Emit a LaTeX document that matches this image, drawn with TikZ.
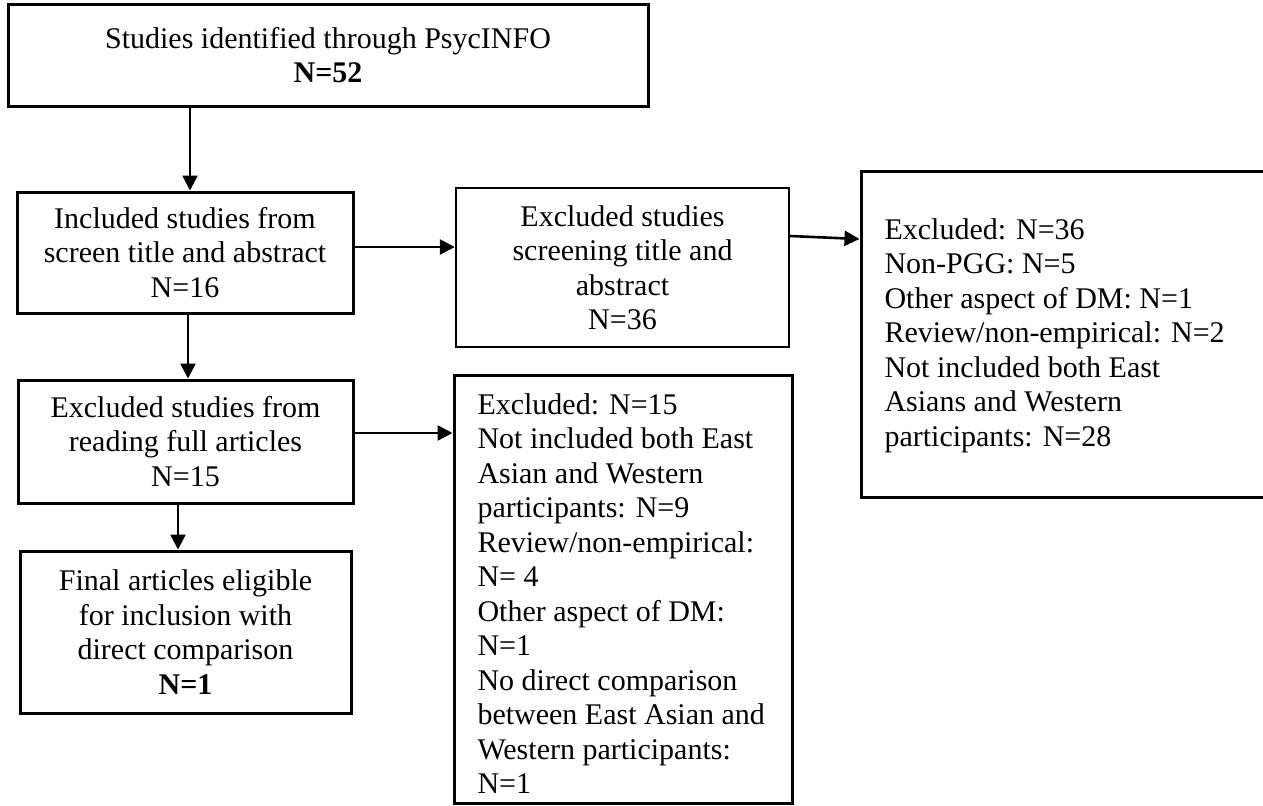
\documentclass[tikz,border=0pt]{standalone}
\usepackage{fontspec}
\setmainfont{Liberation Serif}
\usetikzlibrary{arrows.meta}
\begin{document}
\begin{tikzpicture}[x=0.5pt,y=-0.5pt,
  box/.style={draw=black,line width=1.5pt,rectangle,inner sep=0pt,
    font=\fontsize{15pt}{17.25pt}\selectfont,align=center},
  arr/.style={line width=1.3pt,-{Triangle[length=7.5pt,width=7.5pt]}}]
\useasboundingbox (0,0) rectangle (1263,805);

% boxes of the flow
\node[box,minimum width=320pt,minimum height=51pt] (A) at (328,55)
  {Studies identified through PsycINFO\\\textbf{N=52}};
\node[box,minimum width=168pt,minimum height=60.5pt] (B) at (185,252.5)
  {Included studies from\\screen title and abstract\\N=16};
\node[box,line width=1.2pt,minimum width=166.5pt,minimum height=79.5pt] (C) at (622.5,267.5)
  {Excluded studies\\screening title and\\abstract\\N=36};
\node[box,minimum width=167.5pt,minimum height=61.5pt] (D) at (185.5,441.5)
  {Excluded studies from\\reading full articles\\N=15};
\node[box,minimum width=204.5pt,minimum height=163pt] (E) at (1065.5,334) {};
\node[box,minimum width=169pt,minimum height=214pt] (F) at (623,589) {};
\node[box,minimum width=165.5pt,minimum height=81pt] (G) at (185.5,632)
  {Final articles eligible\\for inclusion with\\direct comparison\\\textbf{N=1}};

% itemised exclusion lists
\node[box,draw=none,anchor=west,align=left] (Et) at (883,335.5)
  {Excluded: N=36\\Non-PGG: N=5\\Other aspect of DM: N=1\\Review/non-empirical: N=2\\Not included both East\\Asians and Western\\participants: N=28};
\node[box,draw=none,anchor=north west,align=left] (Ft) at (476,392)
  {Excluded: N=15\\Not included both East\\Asian and Western\\participants: N=9\\Review/non-empirical:\\N= 4\\Other aspect of DM:\\N=1\\No direct comparison\\between East Asian and\\Western participants:\\N=1};

% connector positions
\coordinate (ab) at (190,0);
\coordinate (bd) at (188,0);
\coordinate (dg) at (178,0);
\coordinate (bc) at (0,247);
\coordinate (df) at (0,433);
\coordinate (ce1) at (0,236);
\coordinate (ce2) at (0,239);

\draw[arr] (A.south -| ab) -- (B.north -| ab);
\draw[arr] (B.south -| bd) -- (D.north -| bd);
\draw[arr] (D.south -| dg) -- (G.north -| dg);
\draw[arr] (B.east |- bc) -- (C.west |- bc);
\draw[arr] (D.east |- df) -- (F.west |- df);
\draw[arr] (C.east |- ce1) -- (E.west |- ce2);
\end{tikzpicture}
\end{document}
